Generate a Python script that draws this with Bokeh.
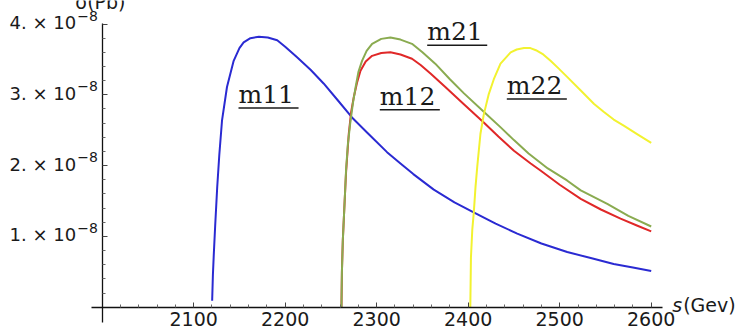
import numpy as np
from bokeh.plotting import figure
from bokeh.models import Range1d, LinearAxis, FixedTicker, CustomJSTickFormatter
from bokeh.core.properties import value
from bokeh.embed import file_html
from bokeh.resources import INLINE

# sqrt(s) in GeV ; sigma in units of 1e-8 pb
s_m11 = [2120.2, 2121.0, 2122.0, 2123.5, 2125.7, 2128.0, 2131.0, 2136.4, 2143.7, 2150.0, 2154.6,
         2162.0, 2171.3, 2181.0, 2191.3, 2200.0, 2213.0, 2228.0, 2242.0, 2257.0, 2273.0, 2290.0,
         2311.3, 2326.0, 2340.0, 2362.4, 2385.0, 2406.0, 2430.0, 2453.6, 2480.0, 2508.2, 2535.0,
         2559.0, 2580.0, 2600.0]
sig_m11 = [0.09, 0.45, 0.75, 1.15, 1.69, 2.15, 2.64, 3.11, 3.48, 3.66, 3.74,
           3.80, 3.82, 3.81, 3.77, 3.68, 3.53, 3.35, 3.16, 2.93, 2.68, 2.46,
           2.19, 2.03, 1.88, 1.66, 1.48, 1.34, 1.18, 1.04, 0.90, 0.78, 0.69,
           0.61, 0.56, 0.51]

s_m12 = [2261.5, 2262.0, 2263.0, 2265.0, 2266.5, 2269.5, 2272.0, 2275.0, 2278.5, 2282.3, 2288.0,
         2295.0, 2305.0, 2315.0, 2326.0, 2338.6, 2348.0, 2358.8, 2375.0, 2395.0, 2417.0, 2433.0,
         2450.0, 2468.3, 2479.0, 2500.0, 2523.0, 2545.0, 2566.5, 2585.0, 2600.0]
sig_m12 = [0.0, 0.5, 0.95, 1.5, 1.9, 2.45, 2.75, 2.97, 3.17, 3.34, 3.47,
           3.55, 3.59, 3.60, 3.57, 3.51, 3.42, 3.30, 3.11, 2.87, 2.61, 2.41,
           2.21, 2.03, 1.93, 1.73, 1.53, 1.38, 1.25, 1.15, 1.07]

s_m21 = [2261.5, 2262.0, 2263.0, 2265.0, 2266.5, 2268.5, 2271.0, 2274.0, 2277.0, 2280.0, 2284.0,
         2289.0, 2295.0, 2305.0, 2315.0, 2326.0, 2338.6, 2350.0, 2364.0, 2380.0, 2395.4, 2417.0,
         2435.5, 2450.0, 2466.0, 2487.0, 2508.0, 2523.0, 2552.0, 2575.0, 2600.0]
sig_m21 = [0.0, 0.5, 0.95, 1.5, 1.93, 2.3, 2.59, 2.88, 3.11, 3.32, 3.48,
           3.62, 3.72, 3.79, 3.81, 3.78, 3.72, 3.60, 3.44, 3.22, 3.02, 2.76,
           2.54, 2.36, 2.17, 1.96, 1.79, 1.65, 1.46, 1.29, 1.14]

s_m22 = [2402.3, 2403.0, 2404.5, 2406.2, 2408.0, 2410.0, 2413.4, 2417.0, 2422.5, 2428.0, 2435.3,
         2446.4, 2453.0, 2461.0, 2468.0, 2474.0, 2482.0, 2490.0, 2499.0, 2508.4, 2523.0, 2537.6,
         2548.0, 2559.0, 2570.4, 2585.0, 2600.0]
sig_m22 = [0.0, 0.7, 1.1, 1.35, 1.7, 2.0, 2.45, 2.72, 3.01, 3.22, 3.44,
           3.60, 3.64, 3.66, 3.66, 3.63, 3.57, 3.48, 3.37, 3.25, 3.06, 2.87,
           2.76, 2.65, 2.56, 2.44, 2.32]

series_names = ["m11", "m12", "m21", "m22"]
series_colors = ["#2a2ad2", "#e02828", "#8aab50", "#f2f230"]

x_ticks = [2100, 2200, 2300, 2400, 2500, 2600]
y_ticks = [1, 2, 3, 4]
y_tick_base = ["1. × 10", "2. × 10", "3. × 10", "4. × 10"]
y_tick_exp = ["−8", "−8", "−8", "−8"]

# annotation placement (data coordinates)
label_x = [2149.0, 2303.4, 2355.2, 2442.2]
label_y = [2.873, 2.85, 3.76, 3.00]

p = figure(width=737, height=336,
           x_range=Range1d(1888.9, 2694.3), y_range=Range1d(-0.414, 4.332),
           min_border=0, output_backend="svg", toolbar_location=None,
           x_axis_type=None, y_axis_type=None)
p.outline_line_color = None
p.background_fill_color = "white"
p.border_fill_color = "white"

xminor = [v for v in range(2020, 2600, 20) if v % 100 != 0]
yminor = [round(0.2 * i, 2) for i in range(1, 20) if i % 5 != 0]

xax = LinearAxis(fixed_location=0, bounds=(1988, 2612),
                 ticker=FixedTicker(ticks=x_ticks, minor_ticks=xminor))
xax.major_tick_in = 5
xax.major_tick_out = 0
xax.minor_tick_in = 3
xax.minor_tick_out = 0
xax.axis_line_color = "#111111"
xax.axis_line_width = 1.3
xax.major_tick_line_color = "#444444"
xax.minor_tick_line_color = "#666666"
xax.major_label_text_font = "DejaVu Sans"
xax.major_label_text_font_size = "19px"
xax.major_label_text_color = "#1a1a1a"
xax.major_label_standoff = 5
p.add_layout(xax, "below")

yax = LinearAxis(fixed_location=2000, bounds=(-0.216, 4.01),
                 ticker=FixedTicker(ticks=y_ticks, minor_ticks=yminor))
yax.major_tick_in = 5
yax.major_tick_out = 0
yax.minor_tick_in = 3
yax.minor_tick_out = 0
yax.axis_line_color = "#111111"
yax.axis_line_width = 1.3
yax.major_tick_line_color = "#444444"
yax.minor_tick_line_color = "#666666"
yax.formatter = CustomJSTickFormatter(code="return ''")
p.add_layout(yax, "left")

p.xgrid.visible = False
p.ygrid.visible = False

for xs, ys, c in [(s_m11, sig_m11, series_colors[0]), (s_m12, sig_m12, series_colors[1]),
                  (s_m21, sig_m21, series_colors[2]), (s_m22, sig_m22, series_colors[3])]:
    p.line(xs, ys, line_color=c, line_width=2, line_join="round")

# y tick labels  "n. × 10^-8"
p.text(x=[2000] * len(y_ticks), y=y_ticks, text=y_tick_base, x_offset=-26, y_offset=-1.5,
       text_align="right", text_baseline="middle",
       text_font=value("DejaVu Sans"), text_font_size="18px", text_color="#1a1a1a")
p.text(x=[2000] * len(y_ticks), y=y_ticks, text=y_tick_exp, x_offset=-25, y_offset=-8.5,
       text_align="left", text_baseline="middle",
       text_font=value("DejaVu Sans"), text_font_size="14px", text_color="#1a1a1a")

# axis titles
p.text(x=[1998], y=[4.205], text=["σ(Pb)"], y_offset=-7, text_align="center",
       text_baseline="alphabetic",
       text_font=value("DejaVu Sans"), text_font_size="19px", text_color="#1a1a1a")
p.text(x=[2612], y=[0], text=["s"], x_offset=10, y_offset=-2, text_align="left",
       text_baseline="alphabetic", text_font=value("DejaVu Sans"), text_font_style="italic",
       text_font_size="19px", text_color="#1a1a1a")
p.text(x=[2612], y=[0], text=["(Gev)"], x_offset=21, y_offset=-2, text_align="left",
       text_baseline="alphabetic", text_font=value("DejaVu Sans"),
       text_font_size="19px", text_color="#1a1a1a")

# curve labels, underlined
p.text(x=label_x, y=label_y, text=series_names, y_offset=-9, text_align="left",
       text_baseline="alphabetic",
       text_font=value("DejaVu Serif"), text_font_size="25px", text_color="#1a1a1a")
ul_w = 65.6
p.segment(x0=label_x, x1=[v + ul_w for v in label_x],
          y0=[v - 0.06 for v in label_y], y1=[v - 0.06 for v in label_y],
          line_color="#1a1a1a", line_width=1.5)

open("out.html", "w").write(file_html(p, INLINE))
